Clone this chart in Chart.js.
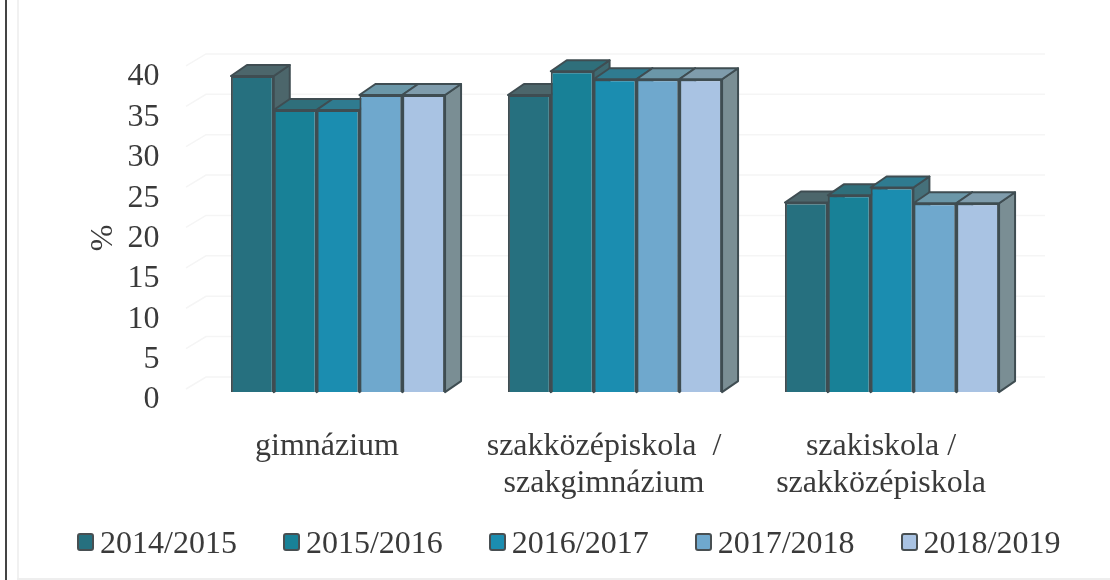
<!DOCTYPE html>
<html>
<head>
<meta charset="utf-8">
<title>chart</title>
<script src="https://cdn.jsdelivr.net/npm/chart.js@4"></script>
<style>
  html, body { margin: 0; padding: 0; background: #fff; }
  #wrap { position: relative; width: 1110px; height: 580px; overflow: hidden; }
  #chart { position: absolute; left: 0; top: 0; }
  /* scan edges of the page */
  #edgeDark { position: absolute; left: 5px; top: 0; width: 2px; height: 580px; background: #444; }
  #edgeLight { position: absolute; left: 17px; top: 0; width: 2px; height: 578px; background: #f1f1f1; }
  #edgeBottom { position: absolute; left: 17px; right: 0; top: 578px; height: 2px; background: #eeeeee; }
  #legend { position: absolute; left: 77px; top: 523px; display: flex; gap: 46px;
    font: 32px "Liberation Serif", serif; color: #3a3a3a; line-height: 38px; white-space: nowrap; }
  #legend .item { display: flex; align-items: center; gap: 6px; }
  #legend .box { width: 13px; height: 14px; border: 2.5px solid #484f52; border-radius: 3px; }
</style>
</head>
<body>
<div id="wrap">
  <canvas id="chart" width="1110" height="580"></canvas>
  <div id="edgeDark"></div>
  <div id="edgeLight"></div>
  <div id="edgeBottom"></div>
  <div id="legend"></div>
</div>
<script>
const categories = ['gimnázium', ['szakközépiskola  /', 'szakgimnázium'], ['szakiskola /', 'szakközépiskola']];
const years = ['2014/2015', '2015/2016', '2016/2017', '2017/2018', '2018/2019'];
const v2014 = [40.0, 37.6, 24.0];
const v2015 = [35.7, 40.6, 24.9];
const v2016 = [35.7, 39.6, 25.9];
const v2017 = [37.6, 39.6, 23.9];
const v2018 = [37.6, 39.6, 23.9];
const seriesValues = [v2014, v2015, v2016, v2017, v2018];
const yTicks = [0, 5, 10, 15, 20, 25, 30, 35, 40];

const frontColors = ['#26707f', '#188197', '#1b8db0', '#6fa8cd', '#a9c3e3'];
const topColors = ['#4c666b', '#2f6f7b', '#2f7b90', '#6b97a8', '#7f9cac'];
const sideColors = ['#4c666b', '#3f6a72', '#45707a', '#6f8a94', '#7a8e94'];
const lineColor = '#3f4d52';
const textColor = '#3a3a3a';
const serif = '"Liberation Serif", serif';

const depthX = 16;
const depthY = 11;

function face(ctx, pts, fill) {
  ctx.beginPath();
  pts.forEach((p, i) => i ? ctx.lineTo(p[0], p[1]) : ctx.moveTo(p[0], p[1]));
  ctx.closePath();
  ctx.fillStyle = fill;
  ctx.fill();
  ctx.stroke();
}

// fake 3D: back grid, then tops and sides under the real bars
const depthPlugin = {
  id: 'depth',
  beforeDatasetsDraw(chart) {
    const ctx = chart.ctx;
    const labelAxis = chart.scales.yLabels;
    ctx.save();

    ctx.strokeStyle = '#f5f5f5';
    ctx.lineWidth = 1.5;
    yTicks.forEach(v => {
      const y = labelAxis.getPixelForValue(v) - 23;
      ctx.beginPath();
      ctx.moveTo(186, y + 12);
      ctx.lineTo(206, y);
      ctx.lineTo(1045, y);
      ctx.stroke();
    });

    ctx.strokeStyle = lineColor;
    ctx.lineWidth = 2;
    ctx.lineJoin = 'round';
    categories.forEach((c, idx) => {
      seriesValues.forEach((s, ds) => {
        const bar = chart.getDatasetMeta(ds).data[idx];
        const left = bar.x - bar.width / 2;
        const right = bar.x + bar.width / 2;
        face(ctx, [[right, bar.y], [right + depthX, bar.y - depthY], [right + depthX, bar.base - depthY], [right, bar.base]], sideColors[ds]);
        face(ctx, [[left, bar.y], [left + depthX, bar.y - depthY], [right + depthX, bar.y - depthY], [right, bar.y]], topColors[ds]);
      });
    });
    ctx.restore();
  }
};

new Chart(document.getElementById('chart'), {
  type: 'bar',
  data: {
    labels: categories,
    datasets: years.map((y, i) => ({
      label: y,
      data: seriesValues[i],
      yAxisID: 'y',
      backgroundColor: frontColors[i],
      borderColor: lineColor,
      borderWidth: 2,
      categoryPercentage: 0.773,
      barPercentage: 1
    }))
  },
  options: {
    responsive: false,
    animation: false,
    layout: { padding: { left: 84, right: 79.5, top: 60, bottom: 0 } },
    plugins: { legend: { display: false }, tooltip: { enabled: false } },
    scales: {
      x: {
        grid: { display: false },
        border: { display: false },
        afterFit(scale) { scale.height = 180; },
        ticks: {
          font: { family: serif, size: 32, lineHeight: 1.15 },
          color: textColor,
          padding: 20,
          labelOffset: -11,
          maxRotation: 0,
          autoSkip: false
        }
      },
      // bars use this one, hidden; the printed numbers sit on yLabels
      y: { display: false, min: -1, max: 42.03 },
      yLabels: {
        position: 'left',
        min: 0,
        max: 42.1,
        grid: { display: false },
        border: { display: false },
        afterFit(scale) { scale.width = 115.5; },
        afterBuildTicks(scale) { scale.ticks = yTicks.map(v => ({ value: v })); },
        ticks: {
          font: { family: serif, size: 32 },
          color: textColor,
          padding: 32
        },
        title: {
          display: true,
          text: '%  ',
          font: { family: serif, size: 32 },
          color: textColor,
          padding: 0
        }
      }
    }
  },
  plugins: [depthPlugin]
});

const legendEl = document.getElementById('legend');
years.forEach((y, i) => {
  const item = document.createElement('div');
  item.className = 'item';
  const box = document.createElement('span');
  box.className = 'box';
  box.style.background = frontColors[i];
  const label = document.createElement('span');
  label.textContent = y;
  item.appendChild(box);
  item.appendChild(label);
  legendEl.appendChild(item);
});
</script>
</body>
</html>
